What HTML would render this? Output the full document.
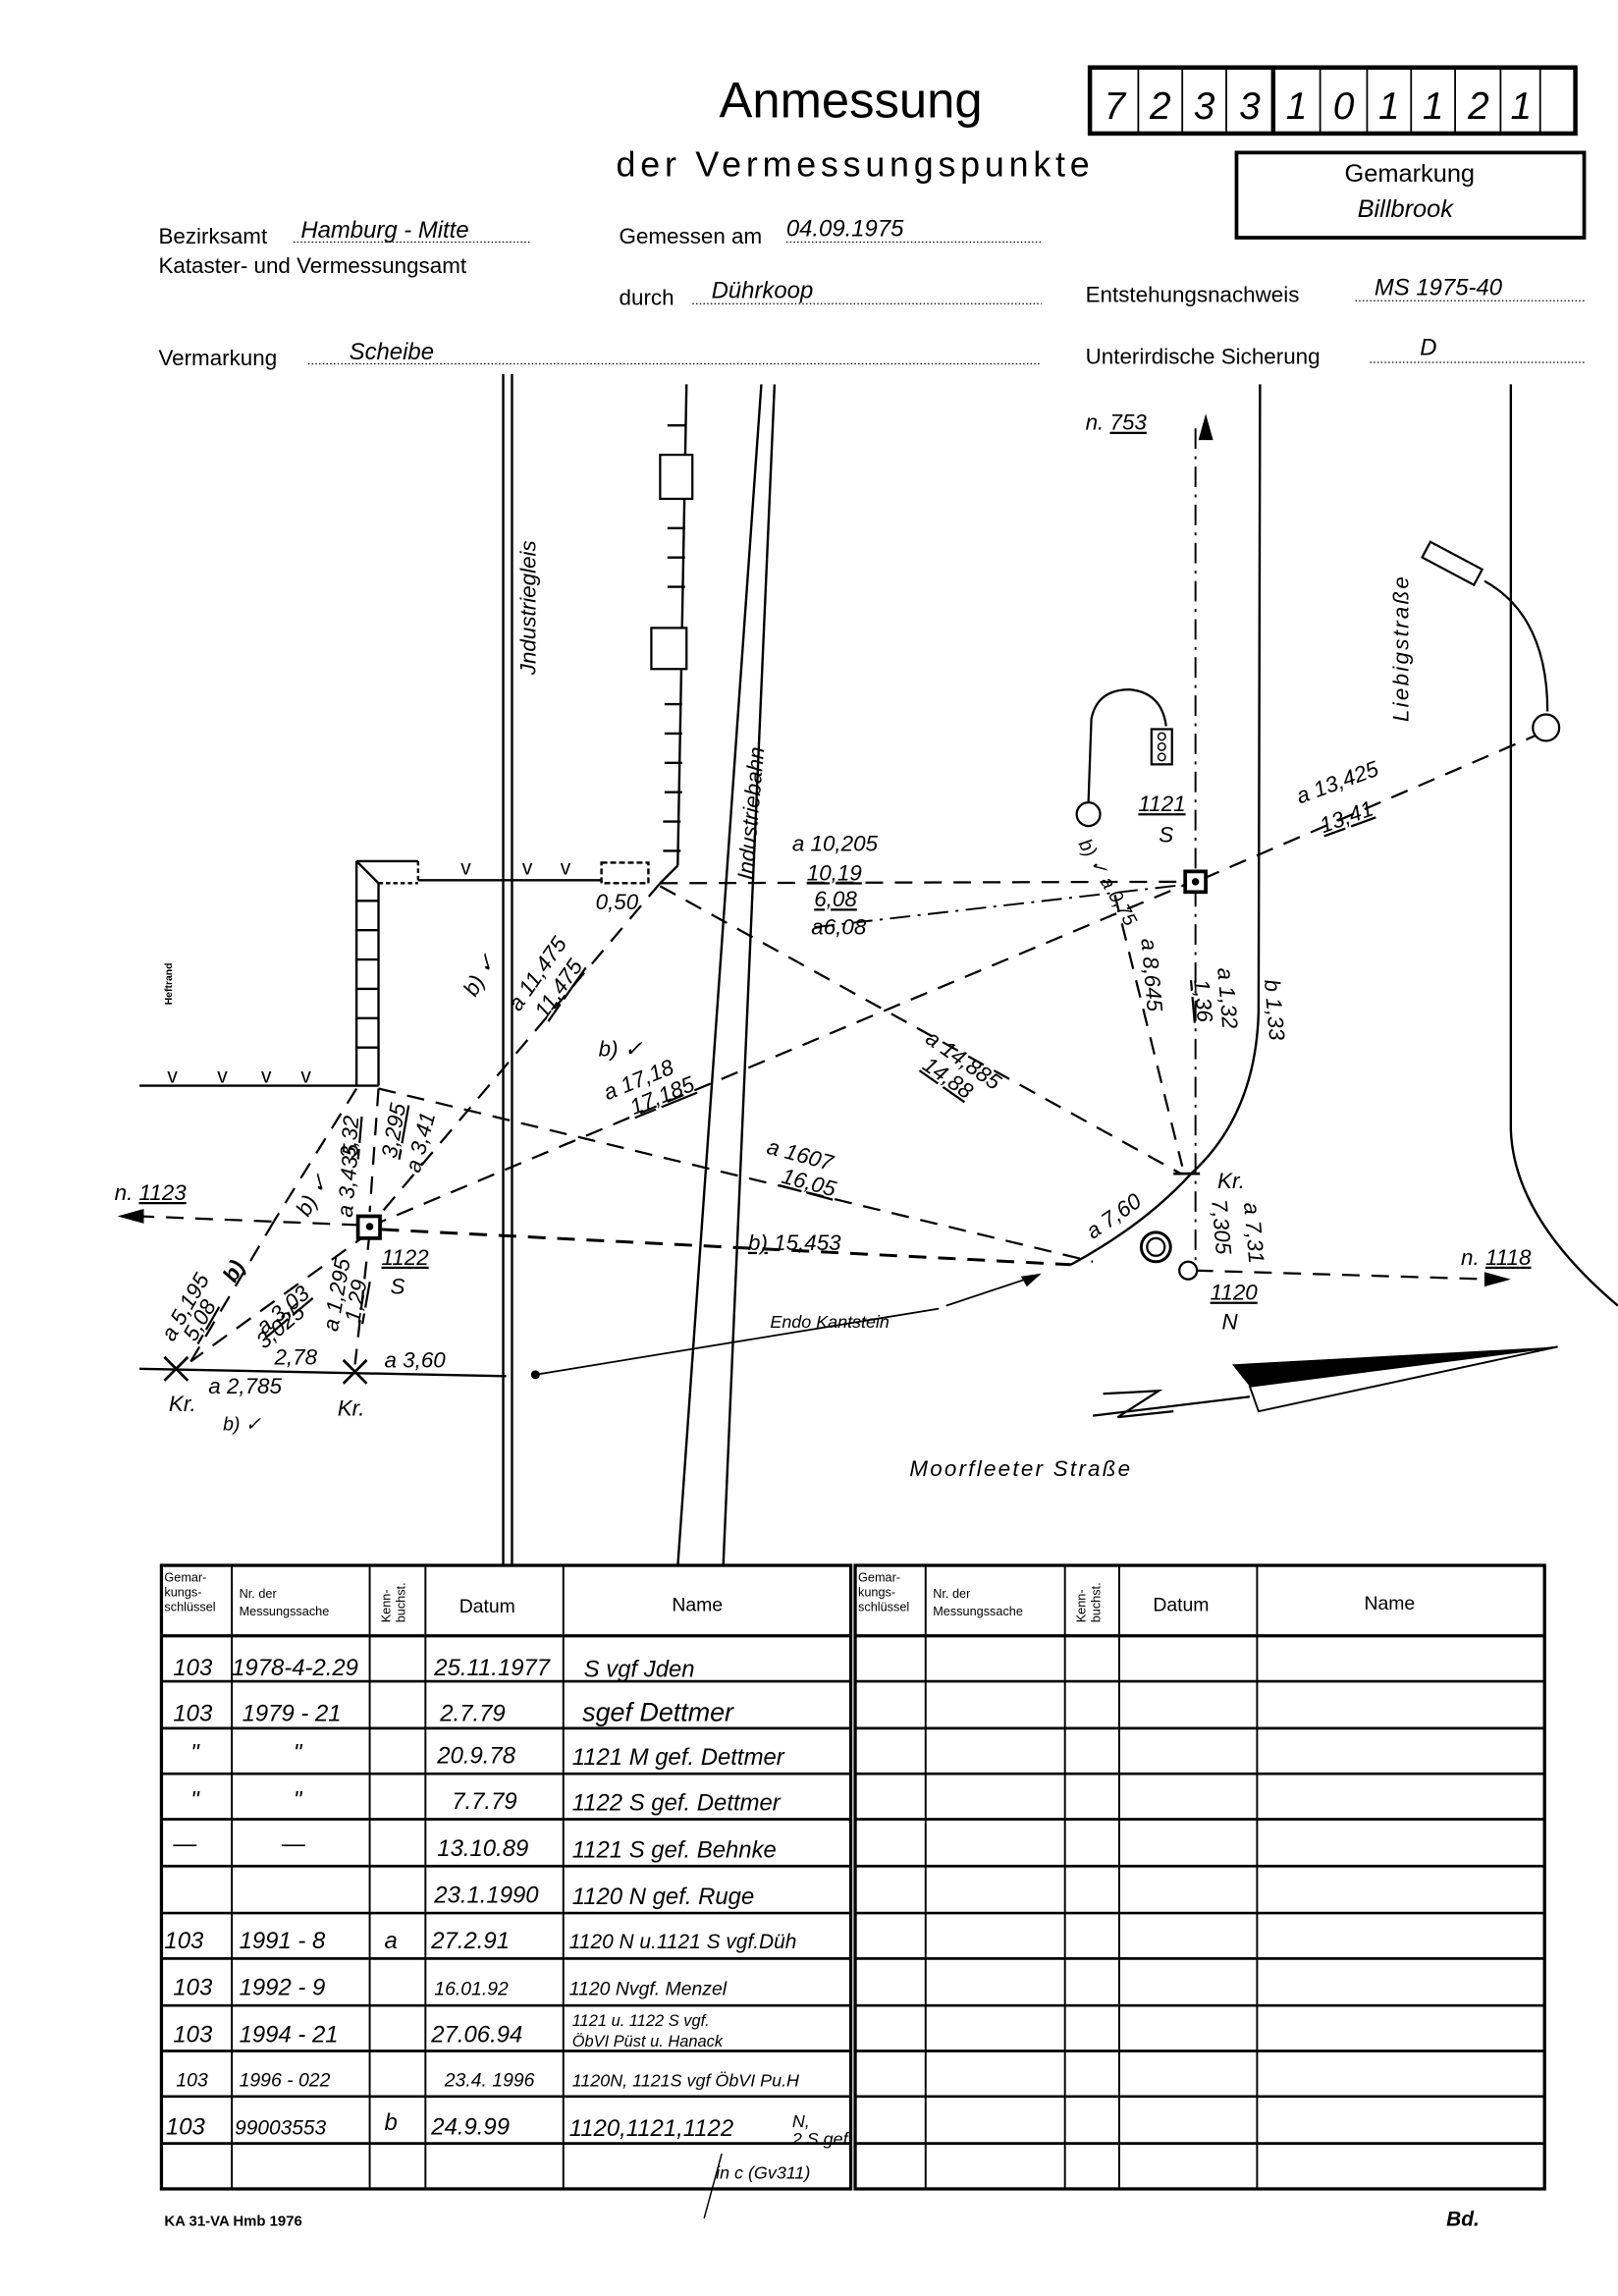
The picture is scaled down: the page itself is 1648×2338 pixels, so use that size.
<!DOCTYPE html>
<html><head><meta charset="utf-8"><style>
html,body{margin:0;padding:0;background:#fff}
svg{display:block}
.h{font-family:"Liberation Sans",sans-serif;fill:#000}
.w{font-family:"Liberation Sans",sans-serif;font-style:italic;fill:#000}
</style></head><body>
<svg width="1648" height="2338" viewBox="0 0 1103 1565" xmlns="http://www.w3.org/2000/svg">
<rect width="1103" height="1565" fill="#fff"/>
<!-- Header -->
<text x="580" y="80" class="h" font-size="34" text-anchor="middle">Anmessung</text>
<rect x="743" y="46" width="331" height="45" fill="none" stroke="#000" stroke-width="3"/>
<g stroke="#000" stroke-width="1.2">
<line x1="776" y1="46" x2="776" y2="91"/><line x1="806" y1="46" x2="806" y2="91"/><line x1="836" y1="46" x2="836" y2="91"/>
<line x1="868" y1="46" x2="868" y2="91" stroke-width="3"/><line x1="900" y1="46" x2="900" y2="91"/><line x1="932" y1="46" x2="932" y2="91"/>
<line x1="962" y1="46" x2="962" y2="91"/><line x1="992" y1="46" x2="992" y2="91"/><line x1="1023" y1="46" x2="1023" y2="91"/><line x1="1050" y1="46" x2="1050" y2="91"/>
</g>
<g class="w" font-size="26" text-anchor="middle">
<text x="760" y="81">7</text><text x="791" y="81">2</text><text x="821" y="81">3</text><text x="852" y="81">3</text><text x="884" y="81">1</text><text x="916" y="81">0</text><text x="947" y="81">1</text><text x="977" y="81">1</text><text x="1008" y="81">2</text><text x="1037" y="81">1</text>
</g>
<text x="420" y="120" class="h" font-size="24" letter-spacing="3.2">der Vermessungspunkte</text>
<rect x="843" y="104" width="237" height="58" fill="none" stroke="#000" stroke-width="2.5"/>
<text x="961" y="124" class="h" font-size="17" text-anchor="middle">Gemarkung</text>
<text x="958" y="148" class="w" font-size="17" text-anchor="middle">Billbrook</text>

<g class="h" font-size="15">
<text x="108" y="166">Bezirksamt</text>
<text x="108" y="186">Kataster- und Vermessungsamt</text>
<text x="422" y="166">Gemessen am</text>
<text x="422" y="208">durch</text>
<text x="740" y="206">Entstehungsnachweis</text>
<text x="108" y="249">Vermarkung</text>
<text x="740" y="248">Unterirdische Sicherung</text>
</g>
<g stroke="#000" stroke-width="0.8" stroke-dasharray="1,1.5">
<line x1="200" y1="165" x2="362" y2="165"/>
<line x1="536" y1="165" x2="710" y2="165"/>
<line x1="472" y1="207" x2="710" y2="207"/>
<line x1="924" y1="205" x2="1080" y2="205"/>
<line x1="210" y1="248" x2="710" y2="248"/>
<line x1="934" y1="247" x2="1080" y2="247"/>
</g>
<g class="w" font-size="16">
<text x="205" y="162">Hamburg - Mitte</text>
<text x="536" y="161">04.09.1975</text>
<text x="485" y="203">Dührkoop</text>
<text x="937" y="201">MS  1975-40</text>
<text x="238" y="245">Scheibe</text>
<text x="968" y="242">D</text>
</g>

<!-- Diagram lines -->
<g stroke="#000" fill="none" stroke-width="1.6">
<line x1="343" y1="255" x2="343" y2="1068"/>
<line x1="349" y1="255" x2="349" y2="1068"/>
<line x1="519" y1="262" x2="462" y2="1068"/>
<line x1="528" y1="262" x2="493" y2="1068"/>
<line x1="468" y1="262" x2="462" y2="590"/>
<line x1="462" y1="590" x2="450" y2="602"/>
<path d="M1030 262 L1030 770 Q1032 830 1103 890"/>
<path d="M859 262 L858 690 Q856 760 812 800 Q780 835 730 862"/>
<line x1="243" y1="587" x2="243" y2="740"/>
<line x1="258" y1="602" x2="258" y2="740"/>
<line x1="243" y1="587" x2="285" y2="587"/>
<line x1="243" y1="587" x2="258" y2="602"/>
<line x1="258" y1="602" x2="285" y2="602" stroke-dasharray="3,2"/>
<line x1="285" y1="587" x2="285" y2="602" stroke-dasharray="3,2"/>
<line x1="285" y1="600" x2="410" y2="600"/>
<rect x="410" y="588" width="32" height="14" stroke-dasharray="4,2"/>
<line x1="95" y1="740" x2="258" y2="740"/>
<line x1="95" y1="933" x2="345" y2="938"/>
</g>
<g stroke="#000" stroke-width="1.6">
<line x1="243" y1="614" x2="258" y2="614"/><line x1="243" y1="634" x2="258" y2="634"/><line x1="243" y1="654" x2="258" y2="654"/><line x1="243" y1="674" x2="258" y2="674"/><line x1="243" y1="694" x2="258" y2="694"/><line x1="243" y1="714" x2="258" y2="714"/>
<line x1="455" y1="290" x2="467" y2="290"/><line x1="455" y1="360" x2="467" y2="360"/><line x1="455" y1="380" x2="467" y2="380"/><line x1="455" y1="400" x2="467" y2="400"/><line x1="453" y1="480" x2="465" y2="480"/><line x1="453" y1="500" x2="465" y2="500"/><line x1="453" y1="520" x2="465" y2="520"/><line x1="453" y1="540" x2="465" y2="540"/><line x1="452" y1="560" x2="464" y2="560"/><line x1="452" y1="580" x2="464" y2="580"/>
</g>
<rect x="450" y="310" width="22" height="30" fill="#fff" stroke="#000" stroke-width="1.5"/>
<rect x="444" y="428" width="24" height="28" fill="#fff" stroke="#000" stroke-width="1.5"/>
<g class="h" font-size="14">
<text x="148" y="738">v</text><text x="178" y="738">v</text><text x="205" y="738">v</text><text x="114" y="738">v</text>
<text x="314" y="596">v</text><text x="356" y="596">v</text><text x="382" y="596">v</text>
</g>
<g stroke="#000" fill="none" stroke-width="1.5" stroke-dasharray="12,8">
<line x1="450" y1="602" x2="808" y2="601"/>
<line x1="252" y1="836" x2="808" y2="603"/>
<line x1="450" y1="602" x2="252" y2="836"/>
<line x1="258" y1="742" x2="745" y2="860"/>
<line x1="450" y1="604" x2="805" y2="800"/>
<line x1="260" y1="838" x2="730" y2="862" stroke-width="2"/>
<line x1="815" y1="866" x2="1018" y2="872"/>
<line x1="245" y1="835" x2="95" y2="829"/>
<line x1="760" y1="610" x2="806" y2="795"/>
<line x1="243" y1="742" x2="187" y2="832"/>
<line x1="258" y1="742" x2="252" y2="826"/>
<line x1="252" y1="840" x2="130" y2="928"/>
<line x1="252" y1="840" x2="242" y2="930"/>
<line x1="820" y1="599" x2="1050" y2="500"/>
<line x1="187" y1="832" x2="130" y2="928"/>
</g>
<g stroke="#000" fill="none" stroke-width="1.3" stroke-dasharray="14,5,2,5">
<line x1="815" y1="292" x2="815" y2="866"/>
<line x1="555" y1="632" x2="808" y2="603"/>
</g>
<polygon points="822,282 817,300 827,300" fill="#000"/>
<polygon points="80,829 98,824 98,834" fill="#000"/>
<polygon points="1030,872 1012,867 1012,877" fill="#000"/>
<line x1="645" y1="890" x2="705" y2="870" stroke="#000" stroke-width="1.2"/>
<polygon points="710,868 696,870 700,877" fill="#000"/>
<line x1="640" y1="892" x2="365" y2="937" stroke="#000" stroke-width="1.2"/>
<circle cx="365" cy="937" r="3" fill="#000"/>
<rect x="244" y="829" width="15" height="15" fill="#fff" stroke="#000" stroke-width="2.5"/>
<circle cx="252" cy="836" r="2.5" fill="#000"/>
<rect x="808" y="594" width="14" height="14" fill="#fff" stroke="#000" stroke-width="2.5"/>
<circle cx="815" cy="601" r="2.5" fill="#000"/>
<circle cx="810" cy="866" r="6" fill="#fff" stroke="#000" stroke-width="1.5"/>
<circle cx="788" cy="850" r="10" fill="#fff" stroke="#000" stroke-width="2"/>
<circle cx="788" cy="850" r="6" fill="none" stroke="#000" stroke-width="1.5"/>
<g stroke="#000" stroke-width="1.8">
<line x1="112" y1="925" x2="128" y2="941"/><line x1="128" y1="925" x2="112" y2="941"/>
<line x1="234" y1="927" x2="250" y2="943"/><line x1="250" y1="927" x2="234" y2="943"/>
<line x1="800" y1="800" x2="818" y2="800"/>
</g>
<circle cx="742" cy="555" r="8" fill="#fff" stroke="#000" stroke-width="1.5"/>
<path d="M742 547 L744 490 Q748 470 770 470 Q792 472 795 495" fill="none" stroke="#000" stroke-width="1.5"/>
<rect x="785" y="497" width="14" height="24" fill="none" stroke="#000" stroke-width="1.5"/>
<g fill="none" stroke="#000" stroke-width="1"><circle cx="792" cy="502" r="2.5"/><circle cx="792" cy="509" r="2.5"/><circle cx="792" cy="516" r="2.5"/></g>
<rect x="970" y="378" width="40" height="12" fill="#fff" stroke="#000" stroke-width="1.5" transform="rotate(28 990 384)"/>
<path d="M1012 396 Q1055 420 1055 485" fill="none" stroke="#000" stroke-width="1.5"/>
<circle cx="1054" cy="496" r="9" fill="#fff" stroke="#000" stroke-width="1.5"/>
<polygon points="840,930 1062,918 852,945" fill="#000"/>
<polygon points="852,945 1062,918 858,962" fill="#fff" stroke="#000" stroke-width="1.3"/>
<line x1="745" y1="965" x2="852" y2="952" stroke="#000" stroke-width="1.5"/>
<path d="M752 950 L790 948 L762 966 L800 962" fill="none" stroke="#000" stroke-width="1.5"/>
<g class="w" font-size="15">
<text x="365" y="460" transform="rotate(-90 365 460)">Jndustriegleis</text>
<text x="513" y="600" transform="rotate(-85 513 600)">Industriebahn</text>
<text x="960" y="492" transform="rotate(-90 960 492)" letter-spacing="1.5">Liebigstraße</text>
<text x="740" y="293">n. <tspan text-decoration="underline">753</tspan></text>
<text x="78" y="818">n. <tspan text-decoration="underline">1123</tspan></text>
<text x="996" y="862">n. <tspan text-decoration="underline">1118</tspan></text>
<text x="776" y="553" text-decoration="underline">1121</text>
<text x="790" y="574">S</text>
<text x="260" y="862" text-decoration="underline">1122</text>
<text x="266" y="882">S</text>
<text x="825" y="886" text-decoration="underline">1120</text>
<text x="833" y="906">N</text>
<text x="620" y="1006" letter-spacing="1.5">Moorfleeter  Straße</text>
<text x="525" y="905" font-size="12">Endo  Kantstein</text>
<text x="540" y="580">a 10,205</text>
<text x="550" y="600" text-decoration="underline">10,19</text>
<text x="555" y="618" text-decoration="underline">6,08</text>
<text x="553" y="637">a6,08</text>
<text x="406" y="620">0,50</text>
<text x="354" y="690" transform="rotate(-55 354 690)">a 11,475</text>
<text x="372" y="695" transform="rotate(-55 372 695)" text-decoration="underline">11,475</text>
<text x="324" y="680" transform="rotate(-60 324 680)">b) ✓</text>
<text x="408" y="720">b) ✓</text>
<text x="414" y="750" transform="rotate(-22 414 750)">a 17,18</text>
<text x="432" y="760" transform="rotate(-22 432 760)" text-decoration="underline">17,185</text>
<text x="522" y="786" transform="rotate(15 522 786)">a 1607</text>
<text x="532" y="806" transform="rotate(15 532 806)" text-decoration="underline">16,05</text>
<text x="510" y="852"><tspan text-decoration="underline">b)</tspan> 15,453</text>
<text x="630" y="710" transform="rotate(35 630 710)">a 14,885</text>
<text x="628" y="728" transform="rotate(35 628 728)" text-decoration="underline">14,88</text>
<text x="886" y="548" transform="rotate(-20 886 548)">a 13,425</text>
<text x="902" y="568" transform="rotate(-20 902 568)" text-decoration="underline">13,41</text>
<text x="778" y="640" transform="rotate(85 778 640)">a 8,645</text>
<text x="830" y="660" transform="rotate(85 830 660)">a 1,32</text>
<text x="814" y="668" transform="rotate(85 814 668)" text-decoration="underline">1,36</text>
<text x="862" y="668" transform="rotate(85 862 668)">b 1,33</text>
<text x="830" y="810">Kr.</text>
<text x="826" y="818" transform="rotate(85 826 818)">7,305</text>
<text x="848" y="820" transform="rotate(85 848 820)">a 7,31</text>
<text x="745" y="845" transform="rotate(-35 745 845)">a 7,60</text>
<text x="735" y="575" transform="rotate(60 735 575)" font-size="13">b) ✓ a 0,75</text>
<text x="240" y="830" transform="rotate(-85 240 830)">a 3,435</text>
<text x="242" y="790" transform="rotate(-85 242 790)" text-decoration="underline">3,32</text>
<text x="270" y="790" transform="rotate(-80 270 790)" text-decoration="underline">3,295</text>
<text x="286" y="800" transform="rotate(-75 286 800)">a 3,41</text>
<text x="210" y="830" transform="rotate(-60 210 830)">b) ✓</text>
<text x="118" y="915" transform="rotate(-60 118 915)">a 5,195</text>
<text x="133" y="915" transform="rotate(-60 133 915)" text-decoration="underline">5,08</text>
<text x="160" y="875" transform="rotate(-60 160 875)" font-weight="bold">b)</text>
<text x="180" y="910" transform="rotate(-40 180 910)" text-decoration="underline">a 3,03</text>
<text x="180" y="920" transform="rotate(-40 180 920)">3,025</text>
<text x="230" y="908" transform="rotate(-80 230 908)">a 1,295</text>
<text x="245" y="902" transform="rotate(-80 245 902)" text-decoration="underline">1,29</text>
<text x="187" y="930">2,78</text>
<text x="142" y="950">a 2,785</text>
<text x="262" y="932">a 3,60</text>
<text x="115" y="962">Kr.</text>
<text x="230" y="965">Kr.</text>
<text x="152" y="975" font-size="13">b) ✓</text>
</g>
<text x="117" y="685" class="h" font-size="7" font-weight="bold" transform="rotate(-90 117 685)">Heftrand</text>

<g stroke="#000" fill="none">
<rect x="110" y="1067" width="470" height="425" stroke-width="2.2"/>
<rect x="583" y="1067" width="470" height="425" stroke-width="2.2"/>
<line x1="110" y1="1115" x2="580" y2="1115" stroke-width="2.2"/>
<line x1="583" y1="1115" x2="1053" y2="1115" stroke-width="2.2"/>
<g stroke-width="1.8">
<line x1="110" y1="1146" x2="580" y2="1146"/><line x1="110" y1="1178" x2="580" y2="1178"/><line x1="110" y1="1209" x2="580" y2="1209"/><line x1="110" y1="1240" x2="580" y2="1240"/><line x1="110" y1="1272" x2="580" y2="1272"/><line x1="110" y1="1304" x2="580" y2="1304"/><line x1="110" y1="1335" x2="580" y2="1335"/><line x1="110" y1="1367" x2="580" y2="1367"/><line x1="110" y1="1398" x2="580" y2="1398"/><line x1="110" y1="1429" x2="580" y2="1429"/><line x1="110" y1="1461" x2="580" y2="1461"/>
<line x1="583" y1="1146" x2="1053" y2="1146"/><line x1="583" y1="1178" x2="1053" y2="1178"/><line x1="583" y1="1209" x2="1053" y2="1209"/><line x1="583" y1="1240" x2="1053" y2="1240"/><line x1="583" y1="1272" x2="1053" y2="1272"/><line x1="583" y1="1304" x2="1053" y2="1304"/><line x1="583" y1="1335" x2="1053" y2="1335"/><line x1="583" y1="1367" x2="1053" y2="1367"/><line x1="583" y1="1398" x2="1053" y2="1398"/><line x1="583" y1="1429" x2="1053" y2="1429"/><line x1="583" y1="1461" x2="1053" y2="1461"/>
</g>
<g stroke-width="1.3">
<line x1="158" y1="1067" x2="158" y2="1492"/><line x1="252" y1="1067" x2="252" y2="1492"/><line x1="290" y1="1067" x2="290" y2="1492"/><line x1="384" y1="1067" x2="384" y2="1492"/>
<line x1="631" y1="1067" x2="631" y2="1492"/><line x1="726" y1="1067" x2="726" y2="1492"/><line x1="763" y1="1067" x2="763" y2="1492"/><line x1="857" y1="1067" x2="857" y2="1492"/>
</g>
</g>
<g class="h" font-size="8.5">
<text x="112" y="1078">Gemar-</text><text x="112" y="1088">kungs-</text><text x="112" y="1098">schlüssel</text>
<text x="163" y="1089">Nr. der</text><text x="163" y="1101">Messungssache</text>
<text x="585" y="1078">Gemar-</text><text x="585" y="1088">kungs-</text><text x="585" y="1098">schlüssel</text>
<text x="636" y="1089">Nr. der</text><text x="636" y="1101">Messungssache</text>
<text x="266" y="1106" transform="rotate(-90 266 1106)">Kenn-</text><text x="276" y="1106" transform="rotate(-90 276 1106)">buchst.</text>
<text x="740" y="1106" transform="rotate(-90 740 1106)">Kenn-</text><text x="750" y="1106" transform="rotate(-90 750 1106)">buchst.</text>
</g>
<g class="h" font-size="13">
<text x="313" y="1099">Datum</text><text x="458" y="1098">Name</text>
<text x="786" y="1098">Datum</text><text x="930" y="1097">Name</text>
</g>
<g class="w" font-size="16">
<text x="118" y="1142">103</text><text x="158" y="1142">1978-4-2.29</text><text x="296" y="1142">25.11.1977</text><text x="398" y="1143">S  vgf   Jden</text>
<text x="118" y="1173">103</text><text x="165" y="1173">1979 - 21</text><text x="300" y="1173">2.7.79</text><text x="397" y="1173" font-size="18">sgef  Dettmer</text>
<text x="130" y="1200">"</text><text x="200" y="1200">"</text><text x="298" y="1202">20.9.78</text><text x="390" y="1203">1121 M gef. Dettmer</text>
<text x="130" y="1232">"</text><text x="200" y="1232">"</text><text x="308" y="1233">7.7.79</text><text x="390" y="1234">1122 S gef. Dettmer</text>
<text x="118" y="1262">—</text><text x="192" y="1262">—</text><text x="298" y="1265">13.10.89</text><text x="390" y="1266">1121 S gef. Behnke</text>
<text x="296" y="1297">23.1.1990</text><text x="390" y="1298">1120 N gef. Ruge</text>
<text x="112" y="1328">103</text><text x="163" y="1328">1991 - 8</text><text x="262" y="1328">a</text><text x="294" y="1328">27.2.91</text><text x="388" y="1328" font-size="14">1120 N  u.1121 S vgf.Düh</text>
<text x="118" y="1360">103</text><text x="163" y="1360">1992 - 9</text><text x="296" y="1360" font-size="13">16.01.92</text><text x="388" y="1360" font-size="13">1120 Nvgf.   Menzel</text>
<text x="118" y="1392">103</text><text x="163" y="1392">1994 - 21</text><text x="294" y="1392">27.06.94</text>
<text x="390" y="1381" font-size="11">1121 u. 1122  S vgf.</text><text x="390" y="1395" font-size="11">ÖbVI Püst u. Hanack</text>
<text x="120" y="1422" font-size="13">103</text><text x="163" y="1422" font-size="13">1996 - 022</text><text x="303" y="1422" font-size="13">23.4. 1996</text><text x="390" y="1422" font-size="12">1120N, 1121S vgf ÖbVI Pu.H</text>
<text x="113" y="1455">103</text><text x="160" y="1455" font-size="14">99003553</text><text x="262" y="1452">b</text><text x="294" y="1455">24.9.99</text><text x="388" y="1456">1120,1121,1122</text><text x="540" y="1450" font-size="12">N,</text><text x="540" y="1462" font-size="12">2 S gef</text>
<text x="488" y="1485" font-size="12">in c (Gv311)</text>
</g>
<line x1="492" y1="1468" x2="480" y2="1512" stroke="#000" stroke-width="1"/>
<text x="112" y="1517" class="h" font-size="10" font-weight="bold">KA 31-VA Hmb 1976</text>
<text x="986" y="1517" class="w" font-size="14" font-weight="bold">Bd.</text>
</svg>
</body></html>
